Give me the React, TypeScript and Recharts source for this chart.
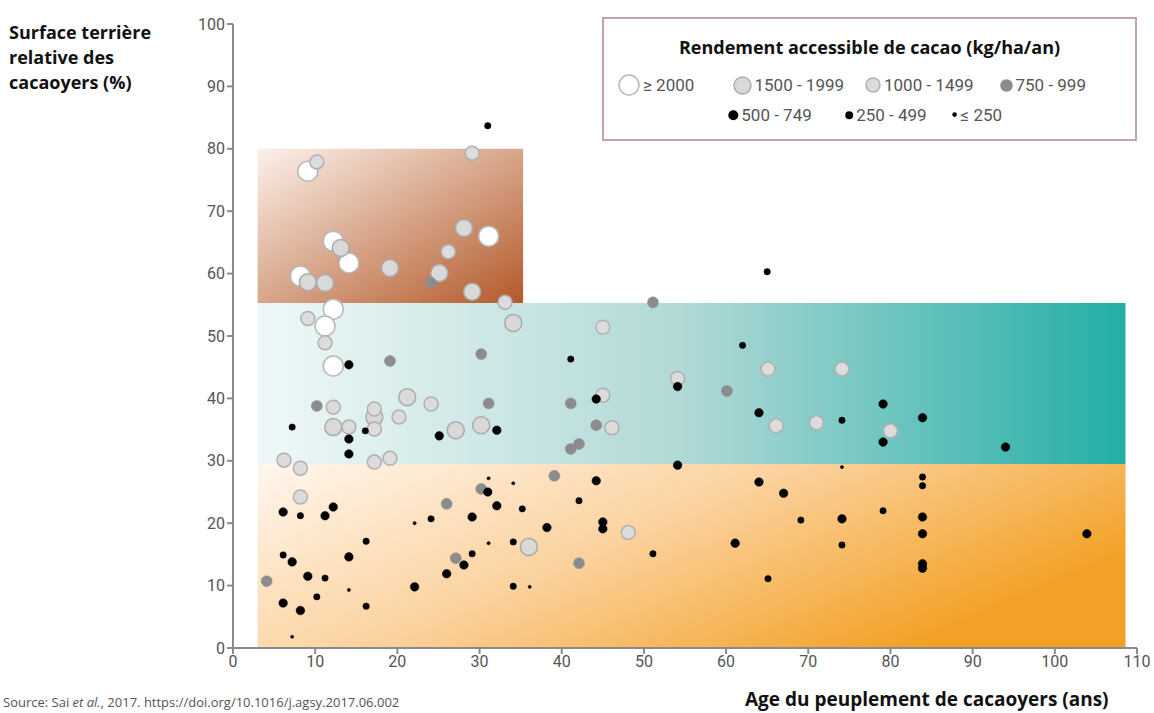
import React from 'react';
import {
  ScatterChart, Scatter, XAxis, YAxis, ReferenceArea,
} from 'recharts';

// Rendement accessible de cacao (kg/ha/an), one array per class: [age, surface terrière %]
const yieldOver2000 = [
  [9.1, 76.4], [12.2, 65.2], [14.1, 61.7], [8.2, 59.6], [31.1, 66.0],
  [12.2, 54.3], [11.2, 51.6], [12.2, 45.2],
];
const yield1500to1999 = [
  [13.1, 64.1], [9.1, 58.6], [11.2, 58.5], [19.1, 60.9], [28.1, 67.3],
  [25.1, 60.1], [29.1, 57.1], [34.1, 52.1], [17.2, 37.0], [21.2, 40.2],
  [12.2, 35.4], [27.1, 34.9], [30.2, 35.7], [36.0, 16.2],
];
const yield1000to1499 = [
  [29.1, 79.3], [10.2, 77.9], [26.2, 63.5], [33.1, 55.4], [9.1, 52.8],
  [11.2, 48.9], [12.2, 38.6], [17.2, 38.3], [24.1, 39.1], [20.2, 37.0],
  [14.1, 35.4], [17.2, 35.1], [6.2, 30.1], [8.2, 28.8], [17.2, 29.8],
  [19.1, 30.4], [8.2, 24.2], [45.0, 51.4], [54.1, 43.2], [65.1, 44.7],
  [45.0, 40.5], [46.1, 35.3], [66.1, 35.6], [71.0, 36.1], [48.1, 18.5],
  [74.1, 44.7], [80.0, 34.8],
];
const yield750to999 = [
  [24.1, 58.5], [19.1, 46.0], [30.2, 47.1], [10.2, 38.8], [31.1, 39.2],
  [4.1, 10.7], [26.0, 23.1], [27.1, 14.4], [30.2, 25.5], [51.1, 55.4],
  [60.1, 41.2], [41.1, 39.2], [44.2, 35.7], [42.1, 32.7], [41.1, 31.9],
  [39.1, 27.6], [42.1, 13.6],
];
const yield500to749 = [
  [14.1, 45.4], [14.1, 33.5], [14.1, 31.1], [25.1, 34.0], [32.1, 34.9],
  [6.1, 21.8], [11.2, 21.2], [12.2, 22.6], [7.2, 13.8], [9.1, 11.5],
  [6.1, 7.2], [8.2, 6.0], [14.1, 14.6], [22.1, 9.8], [26.0, 11.9],
  [28.1, 13.3], [29.1, 21.0], [31.0, 25.0], [32.1, 22.8], [54.1, 41.9],
  [44.2, 39.9], [64.0, 37.7], [54.1, 29.3], [44.2, 26.8], [64.0, 26.6],
  [38.2, 19.3], [45.0, 20.2], [45.0, 19.1], [61.1, 16.8], [67.0, 24.8],
  [79.1, 39.1], [79.1, 33.0], [83.9, 36.9], [94.0, 32.2], [74.1, 20.7],
  [83.9, 21.0], [83.9, 18.3], [83.9, 13.5], [83.9, 12.8], [103.9, 18.3],
];
const yield250to499 = [
  [31.0, 83.7], [7.2, 35.4], [16.1, 34.8], [8.2, 21.2], [6.1, 14.9],
  [11.2, 11.2], [10.2, 8.2], [16.2, 17.1], [16.2, 6.7], [24.1, 20.7],
  [29.1, 15.1], [35.2, 22.3], [34.1, 17.0], [34.1, 9.9], [41.1, 46.3],
  [62.0, 48.5], [65.0, 60.3], [42.1, 23.6], [51.1, 15.1], [65.1, 11.1],
  [69.1, 20.5], [74.1, 36.5], [83.9, 27.4], [83.9, 26.0], [74.1, 16.5],
  [79.1, 22.0],
];
const yieldUnder250 = [
  [7.2, 1.8], [14.1, 9.3], [22.1, 20.0], [31.1, 27.2], [34.1, 26.4],
  [31.1, 16.8], [36.1, 9.8], [74.1, 29.0],
];

const xTicks = [0, 10, 20, 30, 40, 50, 60, 70, 80, 90, 100, 110];
const yTicks = [0, 10, 20, 30, 40, 50, 60, 70, 80, 90, 100];

const classes = [
  { label: '≥ 2000', data: yieldOver2000, r: 10, fill: '#ffffff', stroke: '#b8b8b8' },
  { label: '1500 - 1999', data: yield1500to1999, r: 8.5, fill: '#d9d9d9', stroke: '#ababab' },
  { label: '1000 - 1499', data: yield1000to1499, r: 7, fill: '#dcdcdc', stroke: '#b0b0b0' },
  { label: '750 - 999', data: yield750to999, r: 5.5, fill: '#8c8c8c', stroke: '#8c8c8c' },
  { label: '500 - 749', data: yield500to749, r: 4.3, fill: '#000000', stroke: '#000000' },
  { label: '250 - 499', data: yield250to499, r: 3.2, fill: '#000000', stroke: '#000000' },
  { label: '≤ 250', data: yieldUnder250, r: 1.6, fill: '#000000', stroke: '#000000' },
];

// legend symbol centres inside the legend box
const legendPos = [
  [25, 66], [138, 66], [269, 66], [402, 66],
  [129, 96], [245, 96], [351, 96],
];

const labelFont = '"Open Sans", "Noto Sans", sans-serif';
const tickFont = '"Liberation Sans Narrow", "Roboto", sans-serif';

const LegendBox = () => (
  <div style={{
    position: 'absolute', left: 602, top: 17, width: 535, height: 124,
    border: '2px solid #c9a3a3', background: '#fff', boxSizing: 'border-box',
  }}>
    <div style={{
      position: 'absolute', left: 0, right: 0, top: 16, textAlign: 'center',
      fontFamily: labelFont, fontWeight: 700, fontSize: 18, color: '#111',
    }}>
      Rendement accessible de cacao (kg/ha/an)
    </div>
    {classes.map((c, i) => {
      const [cx, cy] = legendPos[i];
      const s = c.r * 2 + 4;
      return (
        <div key={c.label} style={{ position: 'absolute', left: cx - s / 2, top: cy - 12, height: 24, display: 'flex', alignItems: 'center', whiteSpace: 'nowrap' }}>
          <svg width={s} height={s}>
            <circle cx={s / 2} cy={s / 2} r={c.r} fill={c.fill} stroke={c.stroke} strokeWidth={1.5} />
          </svg>
          <span style={{ marginLeft: 2, fontFamily: tickFont, fontSize: 17, color: '#555' }}>{c.label}</span>
        </div>
      );
    })}
  </div>
);

export default function App() {
  return (
    <div style={{ position: 'absolute', left: 0, top: 0, width: 1154, height: 713, overflow: 'hidden', background: '#fff' }}>
      <ScatterChart width={1154} height={713} margin={{ top: 24, right: 17, bottom: 35, left: 193 }}>
        <defs>
          <linearGradient id="gBrown" x1="0" y1="0" x2="1" y2="1">
            <stop offset="0%" stopColor="#fcf1ea" />
            <stop offset="100%" stopColor="#b35a2a" />
          </linearGradient>
          <linearGradient id="gTeal" x1="0" y1="0" x2="1" y2="0">
            <stop offset="0%" stopColor="#eff8f8" />
            <stop offset="50%" stopColor="#afd8d5" />
            <stop offset="100%" stopColor="#22aea6" />
          </linearGradient>
          <linearGradient id="gOrange" x1="0" y1="0" x2="1" y2="0.5">
            <stop offset="0%" stopColor="#fff6ee" />
            <stop offset="50%" stopColor="#fbd29e" />
            <stop offset="100%" stopColor="#f3a126" />
          </linearGradient>
        </defs>
        <XAxis
          type="number" dataKey="x" domain={[0, 110]} ticks={xTicks}
          stroke="#8a8a8a" strokeWidth={2} tickSize={6} height={30}
          tick={{ fill: '#555', fontFamily: tickFont, fontSize: 16 }}
        />
        <YAxis
          type="number" dataKey="y" domain={[0, 100]} ticks={yTicks}
          stroke="#8a8a8a" strokeWidth={2} tickSize={6} width={40}
          tick={{ fill: '#555', fontFamily: tickFont, fontSize: 16 }}
        />
        <ReferenceArea x1={3} x2={108.6} y1={0} y2={29.5} fill="url(#gOrange)" fillOpacity={1} stroke="none" />
        <ReferenceArea x1={3} x2={108.6} y1={29.5} y2={55.3} fill="url(#gTeal)" fillOpacity={1} stroke="none" />
        <ReferenceArea x1={3} x2={35.3} y1={55.3} y2={80} fill="url(#gBrown)" fillOpacity={1} stroke="none" />
        {classes.map((c) => (
          <Scatter
            key={c.label}
            name={c.label}
            data={c.data.map(([x, y]) => ({ x, y }))}
            isAnimationActive={false}
            shape={(p: any) => (
              <circle cx={p.cx} cy={p.cy} r={c.r} fill={c.fill} stroke={c.stroke} strokeWidth={c.r > 6 ? 1.5 : 0.5} />
            )}
          />
        ))}
      </ScatterChart>
      <div style={{
        position: 'absolute', left: 9, top: 20, fontFamily: labelFont, fontWeight: 700,
        fontSize: 18, lineHeight: '25px', color: '#111',
      }}>
        Surface terrière<br />relative des<br />cacaoyers (%)
      </div>
      <LegendBox />
      <div style={{
        position: 'absolute', left: 745, top: 686, fontFamily: labelFont, fontWeight: 700,
        fontSize: 19, color: '#111', whiteSpace: 'nowrap',
      }}>
        Age du peuplement de cacaoyers (ans)
      </div>
      <div style={{
        position: 'absolute', left: 3, top: 693, fontFamily: labelFont,
        fontSize: 13, color: '#555', whiteSpace: 'nowrap',
      }}>
        Source: Sai <i>et al.</i>, 2017. https://doi.org/10.1016/j.agsy.2017.06.002
      </div>
    </div>
  );
}
